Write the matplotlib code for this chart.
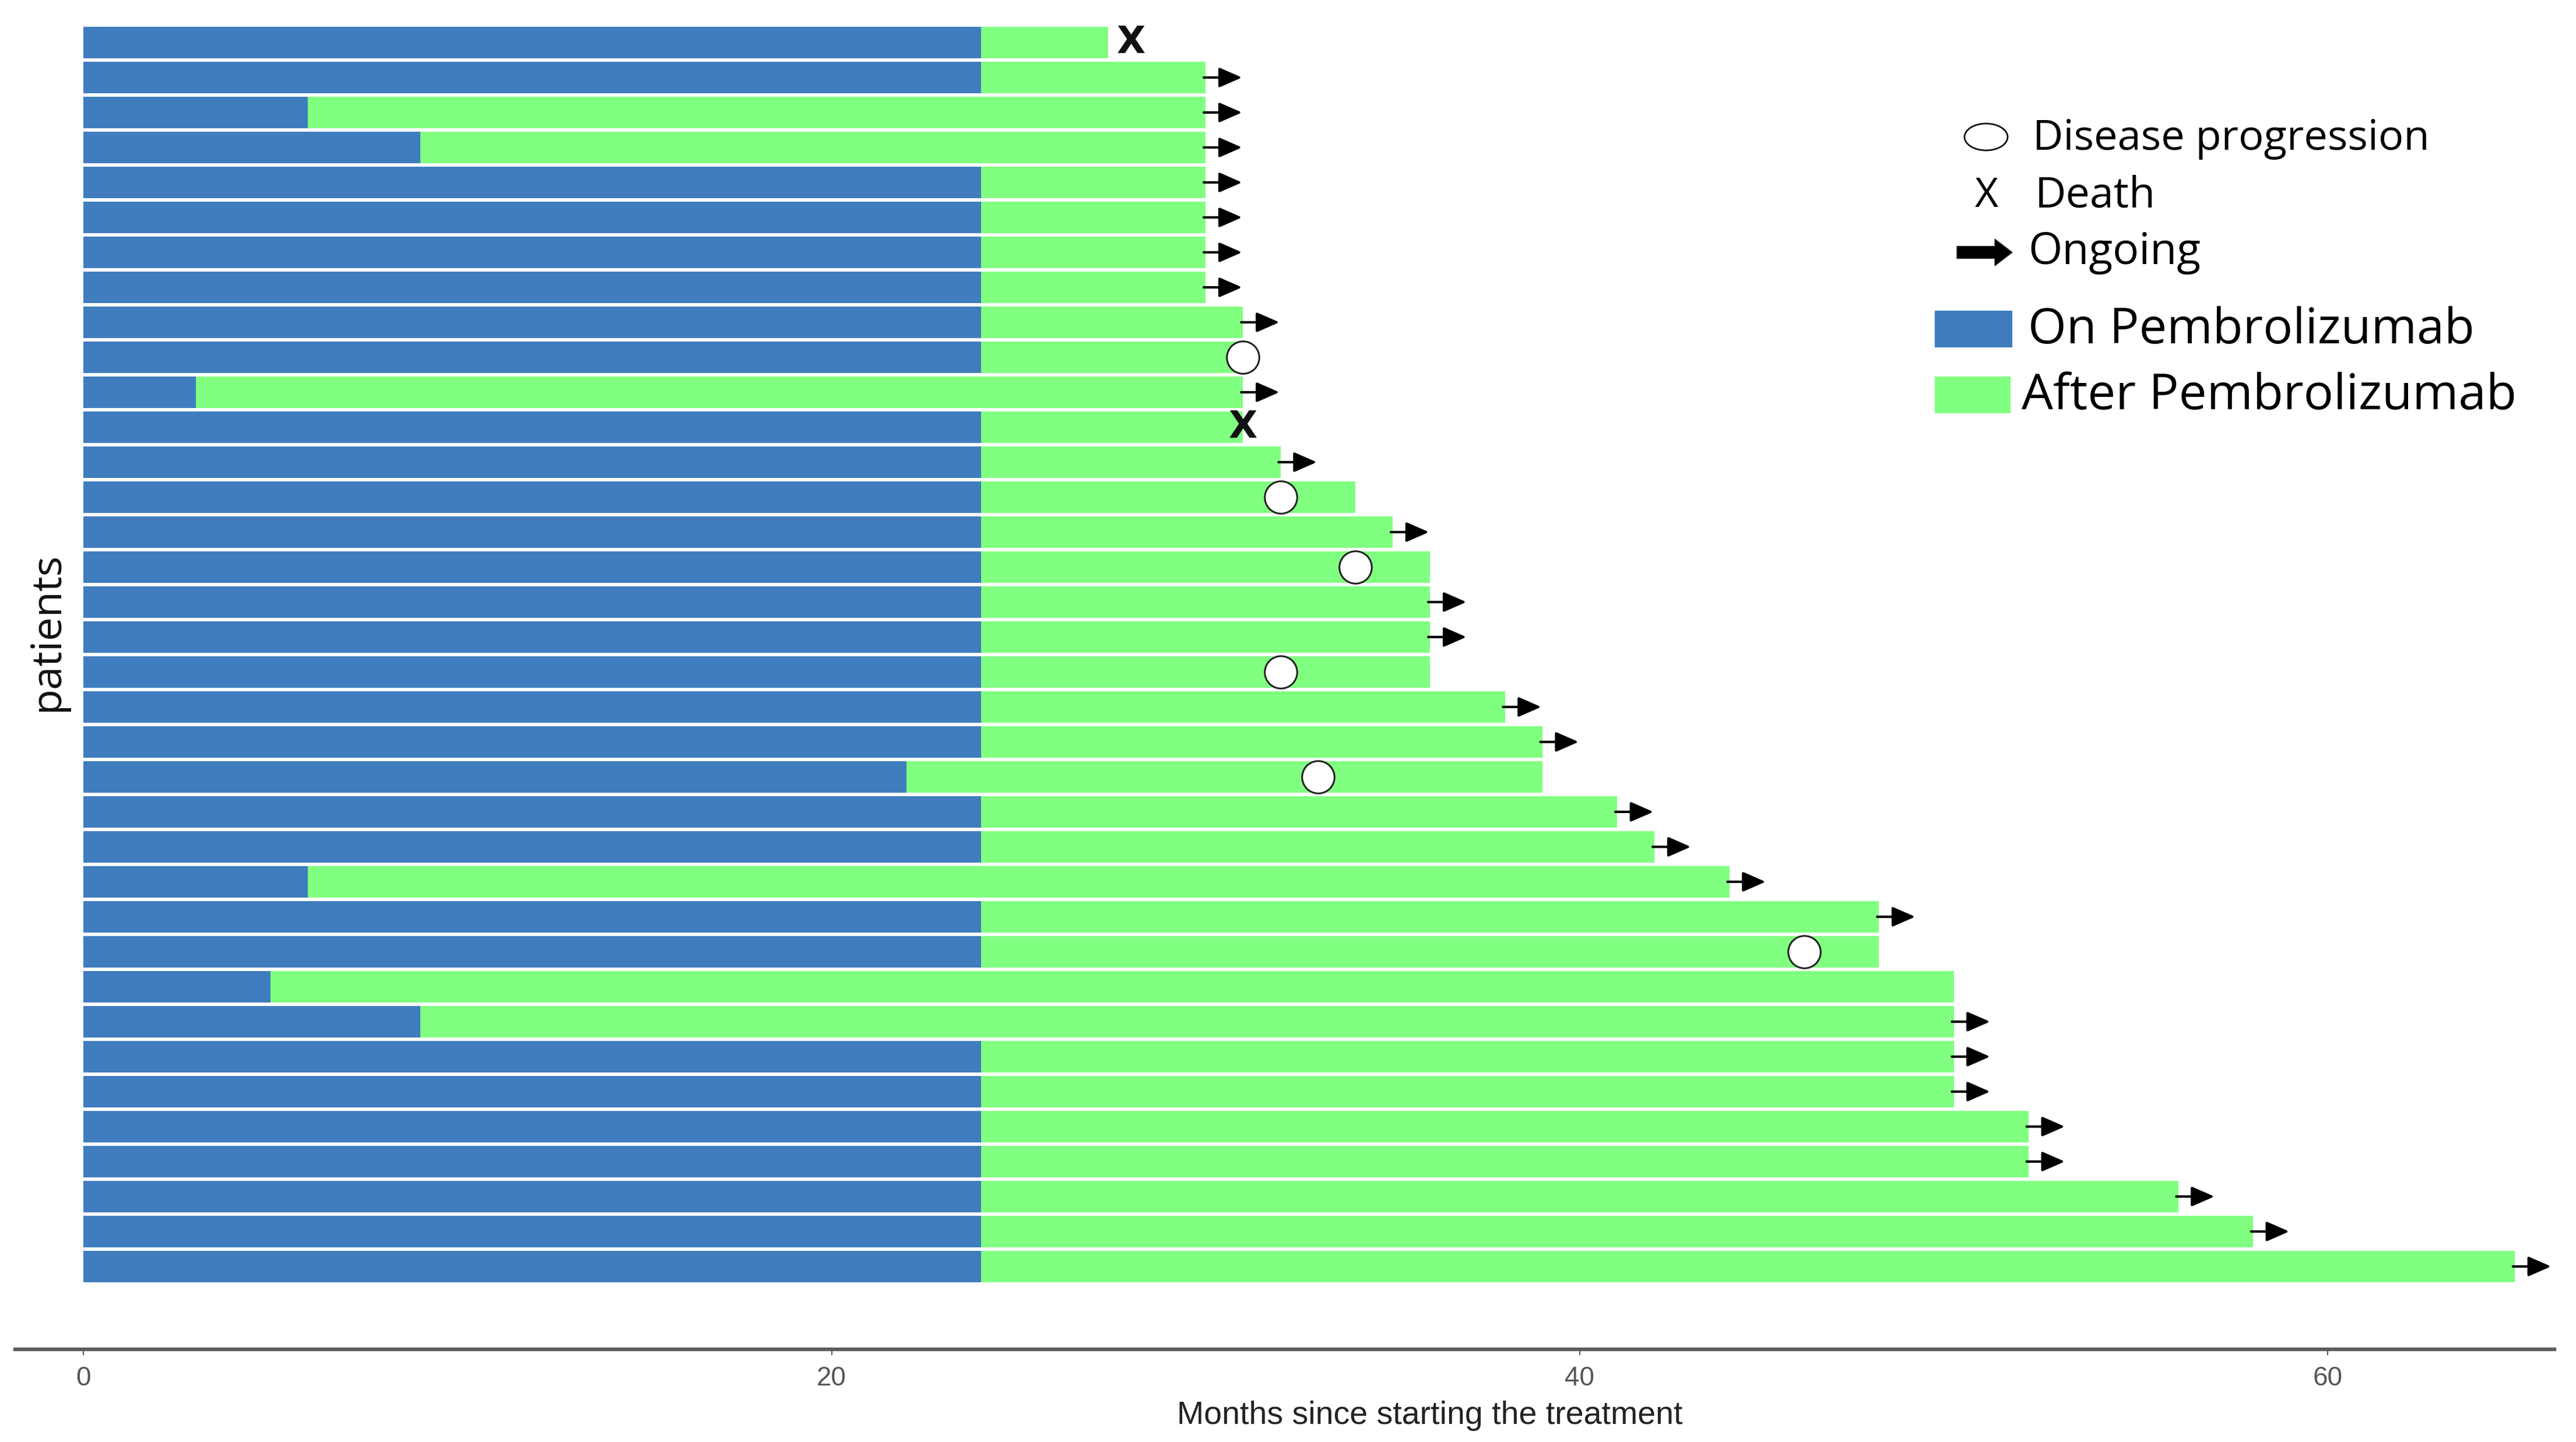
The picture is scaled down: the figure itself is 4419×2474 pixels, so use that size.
import numpy as np
import matplotlib
matplotlib.use("Agg")
import matplotlib.pyplot as plt
import matplotlib.patches as mpatches

# swimmer plot data, one row per patient (top to bottom)
on_treatment = [24, 24, 6, 9, 24, 24, 24, 24, 24, 24, 3, 24, 24, 24, 24, 24, 24, 24,
                24, 24, 24, 22, 24, 24, 6, 24, 24, 5, 9, 24, 24, 24, 24, 24, 24, 24]
total_months = [27.4, 30, 30, 30, 30, 30, 30, 30, 31, 31, 31, 31, 32, 34, 35, 36, 36, 36,
                36, 38, 39, 39, 41, 42, 44, 48, 48, 50, 50, 50, 50, 52, 52, 56, 58, 65]
event_type = ['death', 'ongoing', 'ongoing', 'ongoing', 'ongoing', 'ongoing', 'ongoing', 'ongoing',
              'ongoing', 'progression', 'ongoing', 'death', 'ongoing', 'progression', 'ongoing',
              'progression', 'ongoing', 'ongoing', 'progression', 'ongoing', 'ongoing', 'progression',
              'ongoing', 'ongoing', 'ongoing', 'ongoing', 'progression', 'none', 'ongoing', 'ongoing',
              'ongoing', 'ongoing', 'ongoing', 'ongoing', 'ongoing', 'ongoing']
event_time = [28, 30, 30, 30, 30, 30, 30, 30, 31, 31, 31, 31, 32, 32, 35, 34, 36, 36,
              32, 38, 39, 33, 41, 42, 44, 48, 46, np.nan, 50, 50, 50, 52, 52, 56, 58, 65]
xticks = [0, 20, 40, 60]

blue = '#3F7DBE'
green = '#80FF80'

W, H = 4419, 2474
def fx(x):
    return x / W
def fy(y):
    return 1 - y / H

fig = plt.figure(figsize=(W / 100, H / 100), dpi=100)
ax = fig.add_axes([fx(26), fy(2315), fx(4382) - fx(26), fy(13) - fy(2315)])

rows = np.arange(len(total_months))
on = np.array(on_treatment)
tot = np.array(total_months)

ax.barh(rows, on, height=0.9, color=blue, linewidth=0)
ax.barh(rows, tot - on, left=on, height=0.9, color=green, linewidth=0)

for r, ev, t in zip(rows, event_type, event_time):
    if ev == 'ongoing':
        ax.annotate('', xy=(t + 0.97, r), xytext=(t - 0.05, r),
                    arrowprops=dict(arrowstyle='-|>,head_length=0.8,head_width=0.35',
                                    mutation_scale=30, lw=3, color='black',
                                    shrinkA=0, shrinkB=0))
    elif ev == 'progression':
        ax.plot(t, r, 'o', ms=40, mfc='white', mec='#222222', mew=2.2)
    elif ev == 'death':
        ax.text(t, r, 'X', ha='center', va='center', fontsize=46,
                fontweight='bold', family='DejaVu Sans', color='#111111')

ax.set_xlim(-1.83, 66.06)
ax.set_ylim(37.37, -1)
ax.set_yticks([])
ax.set_xticks(xticks)
ax.set_xticklabels([str(v) for v in xticks], family=['Liberation Sans Narrow', 'Liberation Sans'],
                   fontsize=33, color='#555555')
ax.tick_params(axis='x', length=7, width=1.5, color='#555555', pad=13)
for s in ['left', 'top', 'right']:
    ax.spines[s].set_visible(False)
ax.spines['bottom'].set_color('#5c5c5c')
ax.spines['bottom'].set_linewidth(4.5)

fig.text(fx(2453), fy(2443), 'Months since starting the treatment', ha='center', va='baseline',
         fontsize=40, family=['Liberation Sans Narrow', 'Liberation Sans'], color='#222222')
fig.text(fx(81), fy(1083), 'patients', rotation=90, ha='center', va='center',
         fontsize=52, family='Open Sans', color='#111111')

# legend drawn by hand
lf = 'Open Sans'
fig.add_artist(mpatches.Ellipse((fx(3407), fy(235)), 74 / W, 46 / H, transform=fig.transFigure,
                                facecolor='white', edgecolor='#111111', lw=2))
fig.text(fx(3487), fy(257), 'Disease progression', fontsize=52, family=lf, va='baseline')
fig.text(fx(3408), fy(355), 'X', fontsize=50, family=lf, va='baseline', ha='center')
fig.text(fx(3491), fy(355), 'Death', fontsize=53, family=lf, va='baseline')
fig.add_artist(mpatches.FancyArrow(fx(3357), fy(433), fx(3452) - fx(3357), 0,
                                   width=21 / H, head_width=46 / H, head_length=30 / W,
                                   length_includes_head=True, transform=fig.transFigure,
                                   facecolor='black', edgecolor='#333333', lw=1))
fig.text(fx(3479), fy(453), 'Ongoing', fontsize=54, family=lf, va='baseline')
fig.add_artist(mpatches.Rectangle((fx(3319), fy(596)), (3452 - 3319) / W, (596 - 533) / H,
                                  transform=fig.transFigure, facecolor=blue, lw=0))
fig.text(fx(3479), fy(589), 'On Pembrolizumab', fontsize=61, family=lf, va='baseline')
fig.add_artist(mpatches.Rectangle((fx(3319), fy(709)), (3449 - 3319) / W, (709 - 646) / H,
                                  transform=fig.transFigure, facecolor=green, lw=0))
fig.text(fx(3468), fy(702), 'After Pembrolizumab', fontsize=61.5, family=lf, va='baseline')

fig.savefig('out.png', dpi=100, facecolor='white')
